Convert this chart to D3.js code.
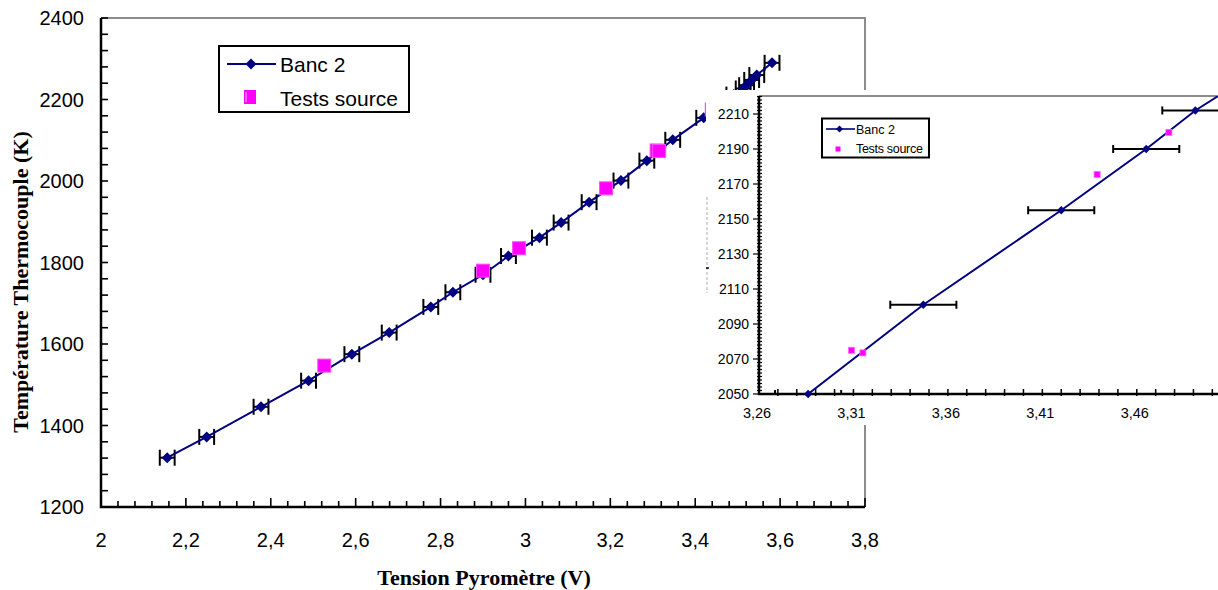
<!DOCTYPE html>
<html><head><meta charset="utf-8">
<script src="https://cdn.jsdelivr.net/npm/d3@7"></script>
<style>body{margin:0;background:#fff}svg{display:block}</style>
</head><body>
<svg id="c" width="1218" height="590"></svg>
<script>
// ---- data ----
const bancV = [2.156, 2.249, 2.377, 2.489, 2.591, 2.679, 2.777, 2.829, 2.90, 2.96, 3.033, 3.084, 3.15, 3.225, 3.286, 3.347, 3.42, 3.465, 3.491, 3.513, 3.521, 3.533, 3.545, 3.581];
const bancT = [1321, 1372, 1446, 1510, 1575, 1628, 1691, 1727, 1770, 1816, 1861, 1898, 1948, 2001, 2050, 2101, 2155, 2190, 2212, 2227, 2235, 2248, 2260, 2290];
const bancErr = 0.0175;
const srcV = [2.526, 2.90, 2.985, 3.19, 3.309, 3.315, 3.439, 3.477];
const srcT = [1547, 1780, 1835, 1982, 2075, 2073.5, 2175.5, 2199.5];
const mainXTicks = [2, 2.2, 2.4, 2.6, 2.8, 3, 3.2, 3.4, 3.6, 3.8];
const mainYTicks = [1200, 1400, 1600, 1800, 2000, 2200, 2400];
const insetXTicks = [3.26, 3.31, 3.36, 3.41, 3.46];
const insetYTicks = [2050, 2070, 2090, 2110, 2130, 2150, 2170, 2190, 2210];
const seriesNames = ["Banc 2", "Tests source"];
const xTitle = "Tension Pyromètre (V)";
const yTitle = "Température Thermocouple (K)";

const banc = bancV.map((v,i)=>({v, t:bancT[i]}));
const src = srcV.map((v,i)=>({v, t:srcT[i]}));
const fmt = d => String(d).replace(".", ",");
const NAVY = "#000080", MAG = "#ff00ff";
const svg = d3.select("#c");
const diamond = r => `M0,${-r}L${r},0L0,${r}L${-r},0Z`;

// ---- main chart ----
const x = d3.scaleLinear().domain([2, 3.8]).range([101, 865]);
const y = d3.scaleLinear().domain([1200, 2400]).range([507, 18]);
const g = svg.append("g");

// frame top/right gray
g.append("path").attr("d", `M${x(2)},${y(2400)}H${x(3.8)}V${y(1200)}`)
  .attr("fill","none").attr("stroke","#8c8c8c").attr("stroke-width",2);

// minor ticks
const xMinor = d3.range(0, 46).map(i => 2 + i*0.04);
g.selectAll(".xm").data(xMinor).join("line")
  .attr("x1", d=>x(d)).attr("x2", d=>x(d)).attr("y1", y(1200)).attr("y2", (d,i)=> i%5===0 ? y(1200)-9 : y(1200)-6)
  .attr("stroke","#000").attr("stroke-width",1.6);
const yMinor = d3.range(0, 31).map(i => 1200 + i*40);
g.selectAll(".ym").data(yMinor).join("line")
  .attr("x1", x(2)).attr("x2", x(2)+7).attr("y1", d=>y(d)).attr("y2", d=>y(d))
  .attr("stroke","#000").attr("stroke-width",1.6);

// axes lines
g.append("path").attr("d", `M${x(2)},${y(2400)}V${y(1200)}H${x(3.8)}`)
  .attr("fill","none").attr("stroke","#000").attr("stroke-width",2.5);

// tick labels
g.selectAll(".xl").data(mainXTicks).join("text")
  .attr("x", d=>x(d)).attr("y", 547).attr("text-anchor","middle")
  .attr("font-family","Liberation Sans, Arial, sans-serif").attr("font-size",20).text(fmt);
g.selectAll(".yl").data(mainYTicks).join("text")
  .attr("x", 84).attr("y", d=>y(d)+7).attr("text-anchor","end")
  .attr("font-family","Liberation Sans, Arial, sans-serif").attr("font-size",20).text(fmt);

// titles
g.append("text").attr("x", 484).attr("y", 585).attr("text-anchor","middle")
  .attr("font-family","Liberation Serif, Times New Roman, serif").attr("font-weight","bold").attr("font-size",22).text(xTitle);
g.append("text").attr("transform","translate(28,282) rotate(-90)").attr("text-anchor","middle")
  .attr("font-family","Liberation Serif, Times New Roman, serif").attr("font-weight","bold").attr("font-size",22).text(yTitle);

// error bars
function errBars(sel, xs, ys, cap, w){
  const eb = sel.selectAll(null).data(banc).join("g");
  eb.append("line").attr("x1", d=>xs(d.v-bancErr)).attr("x2", d=>xs(d.v+bancErr))
    .attr("y1", d=>ys(d.t)).attr("y2", d=>ys(d.t)).attr("stroke","#000").attr("stroke-width",w);
  [-1,1].forEach(s => eb.append("line").attr("x1", d=>xs(d.v+s*bancErr)).attr("x2", d=>xs(d.v+s*bancErr))
    .attr("y1", d=>ys(d.t)-cap).attr("y2", d=>ys(d.t)+cap).attr("stroke","#000").attr("stroke-width",w));
}
errBars(g, x, y, 8, 2);

const line = d3.line().x(d=>x(d.v)).y(d=>y(d.t));
g.append("path").datum(banc).attr("d", line).attr("fill","none").attr("stroke",NAVY).attr("stroke-width",2);
g.selectAll(".bd").data(banc).join("path").attr("d", diamond(5.5))
  .attr("transform", d=>`translate(${x(d.v)},${y(d.t)})`).attr("fill",NAVY);
g.selectAll(".sq").data(src).join("rect")
  .attr("x", d=>x(d.v)-6.5).attr("y", d=>y(d.t)-6.5).attr("width",13).attr("height",13)
  .attr("fill",MAG).attr("stroke","#ff4dff").attr("stroke-width",1);

// main legend
const lg = g.append("g");
lg.append("rect").attr("x",219).attr("y",46).attr("width",190).attr("height",66)
  .attr("fill","#fff").attr("stroke","#000").attr("stroke-width",2);
lg.append("line").attr("x1",227).attr("x2",276).attr("y1",64).attr("y2",64).attr("stroke",NAVY).attr("stroke-width",2);
lg.append("path").attr("d",diamond(5.5)).attr("transform","translate(251,64)").attr("fill",NAVY);
lg.append("rect").attr("x",244).attr("y",90).attr("width",12).attr("height",14).attr("fill",MAG);
lg.append("line").attr("x1",246).attr("x2",246).attr("y1",92).attr("y2",102).attr("stroke","#fff").attr("stroke-width",0.8);
lg.selectAll(".lt").data(seriesNames).join("text")
  .attr("x",280).attr("y",(d,i)=> i===0 ? 72 : 106)
  .attr("font-family","Liberation Sans, Arial, sans-serif").attr("font-size",21).text(d=>d);

// ---- inset ----
svg.append("rect").attr("x",706).attr("y",90).attr("width",512).attr("height",335).attr("fill","#fff");
svg.append("line").attr("x1",707).attr("x2",707).attr("y1",197).attr("y2",293)
  .attr("stroke","#999").attr("stroke-width",0.8).attr("stroke-dasharray","3,2");
svg.append("line").attr("x1",706).attr("x2",709).attr("y1",268).attr("y2",268).attr("stroke","#000").attr("stroke-width",1.5);

const ix = d3.scaleLinear().domain([3.26, 3.503]).range([759, 1218]);
const iy = d3.scaleLinear().domain([2050, 2220]).range([394, 96.5]);
const ig = svg.append("g");
ig.append("defs").append("clipPath").attr("id","ic").append("rect")
  .attr("x",759).attr("y",96).attr("width",459).attr("height",298);

ig.append("line").attr("x1",759).attr("x2",1218).attr("y1",96).attr("y2",96).attr("stroke","#8c8c8c").attr("stroke-width",2);

const ixMinor = d3.range(1, 25).map(i => 3.26 + i*0.01);
ig.selectAll(".ixm").data(ixMinor).join("line")
  .attr("x1", d=>ix(d)).attr("x2", d=>ix(d)).attr("y1", 396).attr("y2", 389)
  .attr("stroke","#000").attr("stroke-width",1.5);
const iyMinor = d3.range(0, 86).map(i => 2050 + i*2);
ig.selectAll(".iym").data(iyMinor).join("line")
  .attr("x1", (d,i)=> i%10===0 ? 753 : 757).attr("x2", 762).attr("y1", d=>iy(d)).attr("y2", d=>iy(d))
  .attr("stroke","#000").attr("stroke-width",1.2);
ig.append("path").attr("d","M759,96V394H1218").attr("fill","none").attr("stroke","#000").attr("stroke-width",2.5);

ig.selectAll(".ixl").data(insetXTicks).join("text")
  .attr("x", d=>ix(d)-2).attr("y", 418).attr("text-anchor","middle")
  .attr("font-family","Liberation Sans, Arial, sans-serif").attr("font-size",14.5).text(d=>d3.format(".2f")(d).replace(".",","));
ig.selectAll(".iyl").data(insetYTicks).join("text")
  .attr("x", 749).attr("y", d=>iy(d)+5).attr("text-anchor","end")
  .attr("font-family","Liberation Sans, Arial, sans-serif").attr("font-size",14).text(d=>d);

const inner = ig.append("g").attr("clip-path","url(#ic)");
const inB = inner.append("g");
errBars(inB, ix, iy, 4, 2);
const iline = d3.line().x(d=>ix(d.v)).y(d=>iy(d.t));
inner.append("path").datum(banc).attr("d", iline).attr("fill","none").attr("stroke",NAVY).attr("stroke-width",2);
const inDom = d => d.v>=3.26 && d.v<=3.503 && d.t>=2049 && d.t<=2220;
ig.selectAll(".ibd").data(banc.filter(inDom)).join("path").attr("d", diamond(4.2))
  .attr("transform", d=>`translate(${ix(d.v)},${iy(d.t)})`).attr("fill",NAVY);
ig.selectAll(".isq").data(src.filter(inDom)).join("rect")
  .attr("x", d=>ix(d.v)-3).attr("y", d=>iy(d.t)-3).attr("width",6).attr("height",6)
  .attr("fill",MAG).attr("stroke","#ff66ff").attr("stroke-width",0.8);

// inset legend
const il = ig.append("g");
il.append("rect").attr("x",822).attr("y",118.5).attr("width",107).attr("height",39)
  .attr("fill","#fff").attr("stroke","#000").attr("stroke-width",2);
il.append("line").attr("x1",826).attr("x2",855).attr("y1",129).attr("y2",129).attr("stroke",NAVY).attr("stroke-width",1.6);
il.append("path").attr("d",diamond(3.5)).attr("transform","translate(839.5,129)").attr("fill",NAVY);
il.append("rect").attr("x",835.5).attr("y",146.5).attr("width",5).attr("height",5).attr("fill",MAG);
il.selectAll(".ilt").data(seriesNames).join("text")
  .attr("x",856).attr("y",(d,i)=> i===0 ? 133.5 : 153)
  .attr("font-family","Liberation Sans, Arial, sans-serif").attr("font-size",12.5)
  .attr("letter-spacing",(d,i)=> i===1 ? "-0.3" : "0").text(d=>d);
</script>
</body></html>
